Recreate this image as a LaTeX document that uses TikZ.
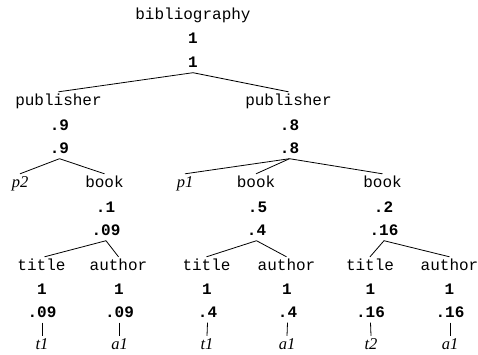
\documentclass[tikz,border=0pt]{standalone}
\usepackage{fontspec}
\newfontfamily\labelfont{Liberation Mono}
\newfontfamily\leaffont{Liberation Serif}
\begin{document}
\begin{tikzpicture}[x=1pt,y=1pt,
  every node/.style={inner xsep=1pt,inner ysep=2pt,text height=11pt,text depth=3pt,anchor=center},
  tag/.style={font=\labelfont\fontsize{16}{18}\selectfont},
  num/.style={font=\labelfont\bfseries\fontsize{16}{18}\selectfont},
  leaf/.style={font=\leaffont\itshape\fontsize{16.5}{18}\selectfont,inner ysep=2pt},
  edge/.style={line width=0.8pt}]
\useasboundingbox (0,0) rectangle (478,-354);

% root
\node[tag] (bib) at (193,-15) {bibliography};
\node[num] (bibA) at (193,-39.5) {1};
\node[num] (bibB) at (193,-63.5) {1};

% publishers
\node[tag] (pubL) at (58.5,-101) {publisher};
\node[num] (pubLA) at (59.5,-126.5) {.9};
\node[num] (pubLB) at (59.5,-149.5) {.9};
\node[tag] (pubR) at (288.5,-101) {publisher};
\node[num] (pubRA) at (289.5,-126.5) {.8};
\node[num] (pubRB) at (289.5,-149.5) {.8};

% second level
\node[leaf] (p2) at (20,-183) {p2};
\node[tag] (bk1) at (104.5,-183) {book};
\node[num] (bk1A) at (105.5,-208.5) {.1};
\node[num] (bk1B) at (106,-231.5) {.09};
\node[leaf] (p1) at (185,-183) {p1};
\node[tag] (bk2) at (256,-183) {book};
\node[num] (bk2A) at (257.5,-208.5) {.5};
\node[num] (bk2B) at (256.5,-231.5) {.4};
\node[tag] (bk3) at (382.5,-183) {book};
\node[num] (bk3A) at (383.5,-208.5) {.2};
\node[num] (bk3B) at (384,-231.5) {.16};

% third level
\node[tag] (ti1) at (41.5,-266) {title};
\node[num] (ti1A) at (42,-290.5) {1};
\node[num] (ti1B) at (42,-313.5) {.09};
\node[leaf] (t1a) at (42,-345) {t1};
\node[tag] (au1) at (118.5,-266) {author};
\node[num] (au1A) at (119,-290.5) {1};
\node[num] (au1B) at (119.5,-313.5) {.09};
\node[leaf] (a1a) at (119.5,-345) {a1};

\node[tag] (ti2) at (206.5,-266) {title};
\node[num] (ti2A) at (207,-290.5) {1};
\node[num] (ti2B) at (207.5,-313.5) {.4};
\node[leaf] (t1b) at (207,-345) {t1};
\node[tag] (au2) at (286.5,-266) {author};
\node[num] (au2A) at (287,-290.5) {1};
\node[num] (au2B) at (287.5,-313.5) {.4};
\node[leaf] (a1b) at (287,-345) {a1};

\node[tag] (ti3) at (370,-266) {title};
\node[num] (ti3A) at (370.5,-290.5) {1};
\node[num] (ti3B) at (370.5,-313.5) {.16};
\node[leaf] (t2) at (371,-345) {t2};
\node[tag] (au3) at (449.5,-266) {author};
\node[num] (au3A) at (449.5,-290.5) {1};
\node[num] (au3B) at (450,-313.5) {.16};
\node[leaf] (a1c) at (450,-345) {a1};

% connectors
\draw[edge] (bibB.south) -- (pubL.north);
\draw[edge] (bibB.south) -- (pubR.north);
\draw[edge] (pubLB.south) -- (p2.north);
\draw[edge] (pubLB.south) -- (bk1.north);
\draw[edge] (pubRB.south) -- (p1.north);
\draw[edge] (pubRB.south) -- (bk2.north);
\draw[edge] (pubRB.south) -- (bk3.north);
\draw[edge] (bk1B.south) -- ([xshift=3pt]ti1.north);
\draw[edge] (bk1B.south) -- (au1.north);
\draw[edge] (bk2B.south) -- (ti2.north);
\draw[edge] (bk2B.south) -- (au2.north);
\draw[edge] (bk3B.south) -- (ti3.north);
\draw[edge] (bk3B.south) -- (au3.north);
\draw[edge] (ti1B.south) -- (t1a.north);
\draw[edge] (au1B.south) -- (a1a.north);
\draw[edge] (ti2B.south) -- (t1b.north);
\draw[edge] (au2B.south) -- (a1b.north);
\draw[edge] (ti3B.south) -- (t2.north);
\draw[edge] (au3B.south) -- (a1c.north);
\end{tikzpicture}
\end{document}
